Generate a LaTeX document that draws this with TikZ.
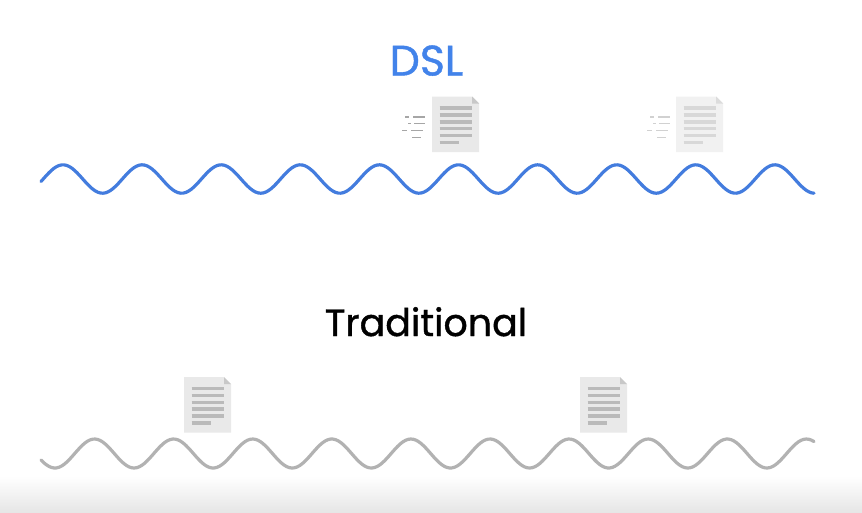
\documentclass[tikz,border=0pt]{standalone}
\usepackage{fontspec}
\newfontfamily\titlefont[FakeBold=1.0]{Poppins}
\definecolor{wblue}{HTML}{437CDE}
\definecolor{tblue}{HTML}{4283EA}
\definecolor{wgray}{HTML}{B2B2B2}
\definecolor{dfill}{HTML}{E9E9E9}
\definecolor{dline}{HTML}{BABABA}
\definecolor{dfold}{HTML}{C8C8C8}
\definecolor{lfill}{HTML}{F1F1F1}
\definecolor{lline}{HTML}{D8D8D8}
\definecolor{lfold}{HTML}{DCDCDC}
\definecolor{bottomgray}{HTML}{E6E6E6}
\tikzset{
  wave/.style={line width=2.4pt,line cap=round,line join=round},
  title/.style={font=\titlefont\fontsize{28.5}{30}\selectfont,inner sep=0pt,anchor=base},
  pics/docicon/.style n args={3}{code={
    \fill[#1] (0,0) -- (40,0) -- (47,7) -- (47,55.5) -- (0,55.5) -- cycle;
    \fill[#3] (40,0) -- (47,7) -- (40,7) -- cycle;
    \foreach \yy in {11.5,18.5,25.3,32,39}
      \draw[#2,line width=2.7pt] (7.5,\yy) -- (39.5,\yy);
    \draw[#2,line width=2.7pt] (7.5,46) -- (26.5,46);
  }},
  pics/speedlines/.style={code={
    \foreach \xa/\xb/\yy in {0/4/0,8/20/0,3/6/6.7,9/20/6.7,-3/2/13.5,6/18/13.5,7/16/20.5}
      \draw[#1,line width=0.8pt] (\xa,\yy) -- (\xb,\yy);
  }}
}
\begin{document}
\begin{tikzpicture}[x=0.75pt,y=-0.75pt]
\useasboundingbox (0,0) rectangle (862,512);
\fill[white] (0,0) rectangle (862,512);
\shade[top color=white,bottom color=bottomgray] (0,476) rectangle (862,512);
\node[title,text=tblue,font=\titlefont\fontsize{32}{34}\selectfont] (dsl) at (426.5,75.5) {DSL};
\node[title,text=black] (trad) at (426,336) {Traditional};
\pic at (405,117) {speedlines=black!35};
\pic at (650,117) {speedlines=black!18};
\pic at (432,96.5) {docicon={dfill}{dline}{dfold}};
\pic at (676,96.5) {docicon={lfill}{lline}{lfold}};
\pic at (184,377) {docicon={dfill}{dline}{dfold}};
\pic at (580,377) {docicon={dfill}{dline}{dfold}};
\draw[wave,wblue] plot[domain=41:814,samples=300] (\x,{179-14.2*cos((\x-63)/79.1*360)});
\draw[wave,wgray] plot[domain=41:814,samples=300] (\x,{453.5-14.5*cos((\x-94.5)/79.1*360)});
\end{tikzpicture}
\end{document}
